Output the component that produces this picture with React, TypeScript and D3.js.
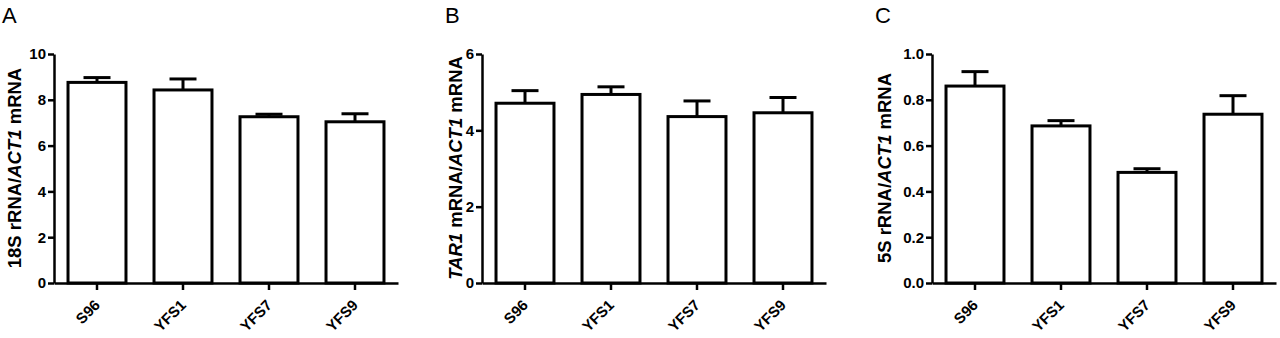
import React, { useEffect, useRef } from "react";
import * as d3 from "d3";

const categories = ["S96", "YFS1", "YFS7", "YFS9"];

const rrna18sMean = [8.76, 8.43, 7.26, 7.04];
const rrna18sErr = [0.21, 0.48, 0.11, 0.35];

const tar1Mean = [4.71, 4.94, 4.36, 4.46];
const tar1Err = [0.33, 0.2, 0.41, 0.4];

const rrna5sMean = [0.86, 0.686, 0.483, 0.737];
const rrna5sErr = [0.063, 0.023, 0.016, 0.081];

const ticksA = [0, 2, 4, 6, 8, 10];
const ticksB = [0, 2, 4, 6];
const ticksC = [0, 0.2, 0.4, 0.6, 0.8, 1.0];

const FONT = "'Liberation Sans', Arial, sans-serif";

const panels = [
  {
    letter: "A", letterX: 2, axisX: 54, titleX: 21,
    title: [{ t: "18S rRNA/", i: false }, { t: "ACT1", i: true }, { t: " mRNA", i: false }],
    mean: rrna18sMean, err: rrna18sErr, ticks: ticksA, fmt: d3.format("d"),
  },
  {
    letter: "B", letterX: 445, axisX: 482, titleX: 462,
    title: [{ t: "TAR1", i: true }, { t: " mRNA/", i: false }, { t: "ACT1", i: true }, { t: " mRNA", i: false }],
    mean: tar1Mean, err: tar1Err, ticks: ticksB, fmt: d3.format("d"),
  },
  {
    letter: "C", letterX: 875, axisX: 932, titleX: 891,
    title: [{ t: "5S rRNA/", i: false }, { t: "ACT1", i: true }, { t: " mRNA", i: false }],
    mean: rrna5sMean, err: rrna5sErr, ticks: ticksC, fmt: d3.format(".1f"),
  },
];

const App = () => {
  const ref = useRef<SVGSVGElement>(null);

  useEffect(() => {
    const svg = d3.select(ref.current);
    svg.selectAll("*").remove();
    const top = 54;
    const bottom = 283;

    panels.forEach((p) => {
      const g = svg.append("g");
      const y = d3.scaleLinear().domain([0, d3.max(p.ticks)!]).range([bottom, top]);
      const x = d3
        .scaleBand()
        .domain(categories)
        .range([p.axisX, p.axisX + 344])
        .paddingInner(0.326)
        .paddingOuter(0.163);

      // panel letter
      g.append("text")
        .attr("x", p.letterX)
        .attr("y", 23)
        .style("font-family", FONT)
        .style("font-size", "22px")
        .text(p.letter);

      // bars
      g.selectAll("rect.bar")
        .data(p.mean)
        .enter()
        .append("rect")
        .attr("x", (d, i) => x(categories[i])!)
        .attr("y", (d) => y(d))
        .attr("width", x.bandwidth())
        .attr("height", (d) => bottom - y(d))
        .attr("fill", "white")
        .attr("stroke", "black")
        .attr("stroke-width", 3);

      // error bars (upper only)
      const cx = (i: number) => x(categories[i])! + x.bandwidth() / 2;
      const capW = 13.5;
      p.mean.forEach((m, i) => {
        g.append("line")
          .attr("x1", cx(i)).attr("x2", cx(i))
          .attr("y1", y(m)).attr("y2", y(m + p.err[i]))
          .attr("stroke", "black").attr("stroke-width", 3);
        g.append("line")
          .attr("x1", cx(i) - capW).attr("x2", cx(i) + capW)
          .attr("y1", y(m + p.err[i])).attr("y2", y(m + p.err[i]))
          .attr("stroke", "black").attr("stroke-width", 3);
      });

      // y axis
      const ya = g
        .append("g")
        .attr("transform", `translate(${p.axisX},0)`)
        .call(d3.axisLeft(y).tickValues(p.ticks).tickFormat(p.fmt as any).tickSize(6).tickSizeOuter(0).tickPadding(2));
      ya.select(".domain").attr("stroke-width", 2.5);
      ya.selectAll(".tick line").attr("stroke-width", 2.5);
      ya.selectAll("text")
        .style("font-family", FONT)
        .style("font-size", "15px")
        .style("font-weight", "bold")
        .attr("fill", "black");

      // x axis
      const xa = g
        .append("g")
        .attr("transform", `translate(0,${bottom})`)
        .call(d3.axisBottom(x).tickSize(7).tickSizeOuter(0));
      xa.select(".domain").attr("stroke-width", 2.5);
      xa.selectAll(".tick line").attr("stroke-width", 2.5);
      xa.selectAll("text")
        .attr("transform", "translate(4,23) rotate(-45)")
        .attr("text-anchor", "end")
        .attr("dy", 0)
        .attr("y", 0)
        .attr("x", 0)
        .style("font-family", FONT)
        .style("font-size", "15px")
        .style("font-weight", "bold")
        .attr("fill", "black");

      // y title
      const t = g
        .append("text")
        .attr("transform", `translate(${p.titleX},168) rotate(-90)`)
        .attr("text-anchor", "middle")
        .style("font-family", FONT)
        .style("font-size", "18.5px")
        .style("font-weight", "bold");
      p.title.forEach((s) => {
        t.append("tspan").style("font-style", s.i ? "italic" : "normal").text(s.t);
      });
    });
  }, []);

  return (
    <svg
      ref={ref}
      width={1280}
      height={338}
      style={{ position: "absolute", left: 0, top: 0, background: "white" }}
    />
  );
};

export default App;
